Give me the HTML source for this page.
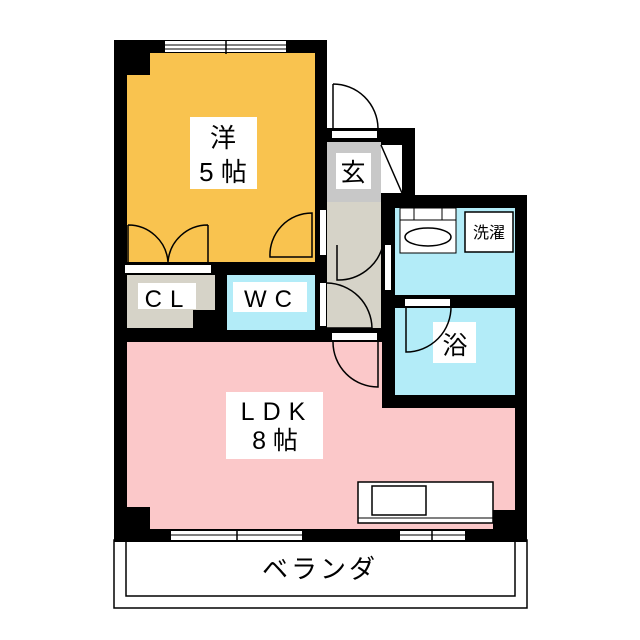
<!DOCTYPE html>
<html><head><meta charset="utf-8"><style>
html,body{margin:0;padding:0;background:#fff;}
svg{display:block;}
text{font-family:"Liberation Sans","Noto Sans CJK JP",sans-serif;fill:#000;}
</style></head><body>
<svg width="640" height="640" viewBox="0 0 640 640" xmlns="http://www.w3.org/2000/svg">
<rect x="114" y="540" width="413" height="68" fill="#fff" stroke="#000" stroke-width="1.5"/>
<rect x="126" y="540" width="389" height="56" fill="none" stroke="#000" stroke-width="1.5"/>
<text x="320" y="578" font-size="26" text-anchor="middle" letter-spacing="3">ベランダ</text>
<rect x="114" y="40" width="213" height="302" fill="#000"/>
<rect x="317" y="128" width="98" height="80" fill="#000"/>
<rect x="382" y="195" width="145" height="213" fill="#000"/>
<rect x="114" y="328" width="280" height="214" fill="#000"/>
<rect x="382" y="395" width="145" height="147" fill="#000"/>
<rect x="317" y="200" width="78" height="142" fill="#000"/>
<rect x="127" y="53" width="188" height="209" fill="#f9c34f"/>
<rect x="127" y="53" width="23" height="22" fill="#000"/>
<rect x="165" y="41" width="121" height="11" fill="#fff"/>
<line x1="165" y1="45" x2="286" y2="45" stroke="#000" stroke-width="1"/>
<line x1="165" y1="49" x2="286" y2="49" stroke="#000" stroke-width="1"/>
<line x1="226" y1="40" x2="226" y2="54" stroke="#000" stroke-width="1.5"/>
<rect x="190" y="117" width="67" height="72" fill="#fff"/>
<text x="223" y="147" font-size="26" text-anchor="middle">洋</text>
<text x="223" y="181" font-size="26" text-anchor="middle">5 帖</text>
<path d="M128 225 A40 40 0 0 1 168 262 M168 262 A40 40 0 0 1 208 225 M208 225 L208 262 M128 225 L128 262" fill="none" stroke="#000" stroke-width="1.5"/>
<path d="M270 257 A42 42 0 0 1 312 213 L312 257 Z" fill="none" stroke="#000" stroke-width="1.5"/>
<rect x="127" y="275" width="88" height="53" fill="#d6d3c8"/>
<rect x="193" y="310" width="22" height="18" fill="#000"/>
<rect x="125" y="265" width="86" height="8" fill="#fff"/>
<rect x="138" y="283" width="58" height="26" fill="#fff"/>
<text x="168" y="307" font-size="24" text-anchor="middle" letter-spacing="8">CL</text>
<rect x="227" y="275" width="88" height="55" fill="#b3ecf8"/>
<rect x="233" y="282" width="74" height="30" fill="#fff"/>
<text x="272" y="307" font-size="24" text-anchor="middle" letter-spacing="8">WC</text>
<rect x="327" y="142" width="54" height="60" fill="#c8c8c8"/>
<rect x="336" y="153" width="35" height="36" fill="#fff"/>
<text x="353" y="181" font-size="25" text-anchor="middle">玄</text>
<rect x="381" y="145" width="21" height="48" fill="#fff"/>
<line x1="381" y1="145" x2="402" y2="193" stroke="#000" stroke-width="1.5"/>
<rect x="332" y="131" width="45" height="7" fill="#fff"/>
<path d="M333 84 A45 45 0 0 1 378 128 M333 84 L333 128" fill="none" stroke="#000" stroke-width="1.5"/>
<rect x="327" y="202" width="54" height="126" fill="#d6d3c8"/>
<rect x="320" y="210" width="6" height="45" fill="#fff"/>
<rect x="320" y="283" width="6" height="43" fill="#fff"/>
<rect x="385" y="245" width="6" height="45" fill="#fff"/>
<path d="M383 245 A46 46 0 0 1 337 280 L337 245" fill="none" stroke="#000" stroke-width="1.5"/>
<path d="M327 283 A46 46 0 0 1 372 328 L327 328" fill="none" stroke="#000" stroke-width="1.5"/>
<rect x="395" y="208" width="120" height="87" fill="#b3ecf8"/>
<rect x="400" y="208" width="56" height="45" fill="#fff" stroke="#000" stroke-width="1"/>
<line x1="400" y1="220" x2="456" y2="220" stroke="#000" stroke-width="1"/>
<line x1="414" y1="208" x2="414" y2="220" stroke="#000" stroke-width="1"/>
<line x1="442" y1="208" x2="442" y2="220" stroke="#000" stroke-width="1"/>
<ellipse cx="428" cy="237" rx="23" ry="9" fill="none" stroke="#000" stroke-width="1.5"/>
<rect x="465" y="212" width="48" height="40" fill="#fff" stroke="#000" stroke-width="1.5"/>
<text x="489" y="238" font-size="16" text-anchor="middle">洗濯</text>
<rect x="395" y="308" width="120" height="87" fill="#b3ecf8"/>
<rect x="405" y="299" width="45" height="7" fill="#fff"/>
<rect x="433" y="322" width="43" height="41" fill="#fff"/>
<path d="M406 306 L406 352 A45 45 0 0 0 451 306" fill="none" stroke="#000" stroke-width="1.5"/>
<text x="455" y="354" font-size="25" text-anchor="middle">浴</text>
<rect x="127" y="342" width="255" height="187" fill="#fbc8c9"/>
<rect x="382" y="408" width="133" height="121" fill="#fbc8c9"/>
<rect x="332" y="333" width="45" height="7" fill="#fff"/>
<path d="M333 342 A45 45 0 0 0 378 387 L378 342" fill="none" stroke="#000" stroke-width="1.5"/>
<rect x="114" y="507" width="36" height="35" fill="#000"/>
<rect x="493" y="510" width="34" height="32" fill="#000"/>
<rect x="226" y="392" width="97" height="67" fill="#fff"/>
<text x="277" y="420" font-size="25" text-anchor="middle" letter-spacing="8">LDK</text>
<text x="275" y="449" font-size="25" text-anchor="middle">8 帖</text>
<rect x="358" y="482" width="135" height="41" fill="#fff" stroke="#000" stroke-width="1.5"/>
<line x1="358" y1="518" x2="493" y2="518" stroke="#000" stroke-width="1"/>
<rect x="372" y="486" width="54" height="29" fill="#fff" stroke="#000" stroke-width="1.5"/>
<rect x="171" y="531" width="131" height="9" fill="#fff"/>
<line x1="171" y1="535" x2="302" y2="535" stroke="#000" stroke-width="1"/>
<line x1="237" y1="529" x2="237" y2="542" stroke="#000" stroke-width="1.5"/>
<rect x="400" y="531" width="65" height="9" fill="#fff"/>
<line x1="400" y1="535" x2="465" y2="535" stroke="#000" stroke-width="1"/>
<line x1="432" y1="529" x2="432" y2="542" stroke="#000" stroke-width="1.5"/>
</svg>
</body></html>
